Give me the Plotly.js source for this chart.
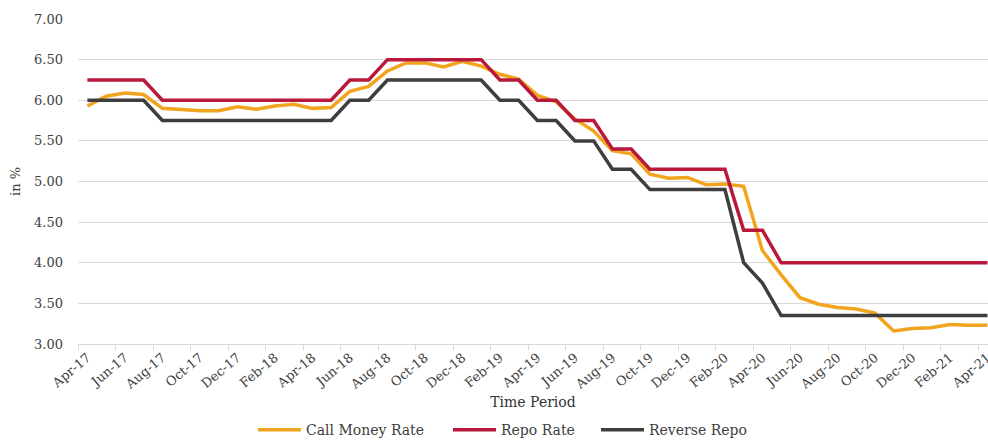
<!DOCTYPE html>
<html>
<head>
<meta charset="utf-8">
<script src="https://cdn.plot.ly/plotly-3.0.1.min.js"></script>
<style>
html,body{margin:0;padding:0;background:#fff;overflow:hidden;}
#chart{width:988px;height:447px;}
</style>
</head>
<body>
<div id="chart"></div>
<script>
const months = ['Apr-17','May-17','Jun-17','Jul-17','Aug-17','Sep-17','Oct-17','Nov-17','Dec-17',
  'Jan-18','Feb-18','Mar-18','Apr-18','May-18','Jun-18','Jul-18','Aug-18','Sep-18','Oct-18','Nov-18','Dec-18',
  'Jan-19','Feb-19','Mar-19','Apr-19','May-19','Jun-19','Jul-19','Aug-19','Sep-19','Oct-19','Nov-19','Dec-19',
  'Jan-20','Feb-20','Mar-20','Apr-20','May-20','Jun-20','Jul-20','Aug-20','Sep-20','Oct-20','Nov-20','Dec-20',
  'Jan-21','Feb-21','Mar-21','Apr-21'];

const callMoneyRate = [5.93,6.05,6.09,6.07,5.90,5.88,5.87,5.87,5.92,
  5.89,5.93,5.95,5.90,5.91,6.11,6.17,6.36,6.46,6.46,6.41,6.48,
  6.42,6.32,6.26,6.06,5.98,5.77,5.62,5.38,5.34,5.09,5.04,5.05,
  4.96,4.97,4.94,4.15,3.85,3.57,3.49,3.45,3.43,3.38,3.16,3.19,
  3.20,3.24,3.23,3.23];

const repoRate = [6.25,6.25,6.25,6.25,6.00,6.00,6.00,6.00,6.00,
  6.00,6.00,6.00,6.00,6.00,6.25,6.25,6.50,6.50,6.50,6.50,6.50,
  6.50,6.25,6.25,6.00,6.00,5.75,5.75,5.40,5.40,5.15,5.15,5.15,
  5.15,5.15,4.40,4.40,4.00,4.00,4.00,4.00,4.00,4.00,4.00,4.00,
  4.00,4.00,4.00,4.00];

const reverseRepo = [6.00,6.00,6.00,6.00,5.75,5.75,5.75,5.75,5.75,
  5.75,5.75,5.75,5.75,5.75,6.00,6.00,6.25,6.25,6.25,6.25,6.25,
  6.25,6.00,6.00,5.75,5.75,5.50,5.50,5.15,5.15,4.90,4.90,4.90,
  4.90,4.90,4.00,3.75,3.35,3.35,3.35,3.35,3.35,3.35,3.35,3.35,
  3.35,3.35,3.35,3.35];

const seriesNames = ['Call Money Rate','Repo Rate','Reverse Repo'];
const seriesColors = ['#F2A41E','#B8193B','#3E3E3E'];
const seriesValues = [callMoneyRate, repoRate, reverseRepo];
const legendIds = ['legend','legend2','legend3'];

const FONT = "'DejaVu Serif', 'Liberation Serif', serif";
const TXT = '#404040';

const traces = seriesValues.map((v, k) => ({
  type: 'scatter',
  mode: 'lines',
  name: seriesNames[k],
  legend: legendIds[k],
  x: months,
  y: v,
  line: {color: seriesColors[k], width: 3.5},
  hoverinfo: 'x+y+name'
}));

function legendAt(px) {
  return {
    orientation: 'h',
    x: (px - 78) / 910, xanchor: 'left',
    y: -0.265, yanchor: 'middle',
    itemwidth: 43,
    font: {family: FONT, size: 14, color: TXT},
    bgcolor: 'rgba(0,0,0,0)',
    borderwidth: 0
  };
}

const layout = {
  width: 988,
  height: 447,
  margin: {l: 78, r: 0, t: 19, b: 103, pad: 0},
  paper_bgcolor: '#ffffff',
  plot_bgcolor: '#ffffff',
  font: {family: FONT, color: TXT, size: 13},
  showlegend: true,
  legend: legendAt(253),
  legend2: legendAt(448),
  legend3: legendAt(596),
  xaxis: {
    type: 'category',
    categoryorder: 'array',
    categoryarray: months,
    range: [-0.5, 48.03],
    tickmode: 'linear',
    tick0: 0,
    dtick: 2,
    tickson: 'boundaries',
    ticks: 'outside',
    ticklen: 5,
    tickcolor: '#d9d9d9',
    tickwidth: 1,
    showline: true,
    linecolor: '#d9d9d9',
    linewidth: 1,
    showgrid: false,
    zeroline: false,
    tickangle: -40,
    tickfont: {family: FONT, size: 13, color: TXT},
    title: {text: 'Time Period', font: {family: FONT, size: 14, color: '#333333'}, standoff: 5},
    automargin: false
  },
  yaxis: {
    range: [3, 7],
    tickmode: 'linear',
    tick0: 3,
    dtick: 0.5,
    tickformat: '.2f',
    showgrid: true,
    gridcolor: '#d9d9d9',
    gridwidth: 1,
    zeroline: false,
    showline: false,
    ticks: '',
    ticklabelstandoff: 14,
    tickfont: {family: FONT, size: 13, color: TXT},
    title: {text: 'in %', font: {family: FONT, size: 13, color: TXT}, standoff: 10},
    automargin: false
  }
};

Plotly.newPlot('chart', traces, layout, {displayModeBar: false, staticPlot: true});
</script>
</body>
</html>
